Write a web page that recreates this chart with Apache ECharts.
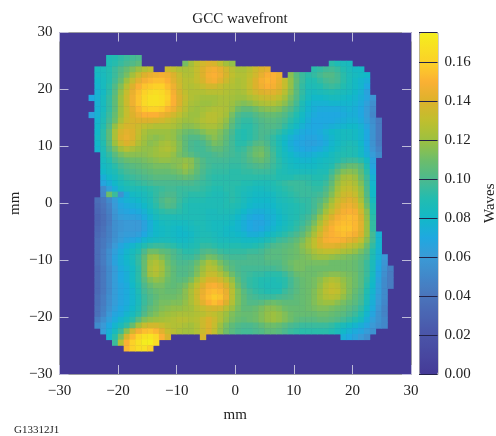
<!DOCTYPE html>
<html><head><meta charset="utf-8">
<style>html,body{margin:0;padding:0;background:#fff}#c{width:496px;height:436px}</style>
<script src="https://cdn.jsdelivr.net/npm/echarts@6/dist/echarts.min.js"></script>
</head><body><div id="c"></div>
<script>
// Wavefront in milliwaves, one row per 1 mm bin. 0 = outside the aperture.
const rowTops = [26,25,24,23,22,21,20,19,18,17,16,15,14,13,12,11,10,9,8,7,6,5,4,3,2,1,0,-1,-2,-3,-4,-5,-6,-7,-8,-9,-10,-11,-12,-13,-14,-15,-16,-17,-18,-19,-20,-21,-22,-23,-24,-25];
const rowStarts = [-22,-22,-24,-24,-24,-24,-24,-25,-24,-24,-25,-24,-24,-24,-24,-24,-24,-23,-23,-23,-23,-23,-23,-23,-23,-24,-24,-24,-24,-24,-24,-24,-24,-24,-24,-24,-24,-24,-24,-24,-24,-24,-24,-24,-24,-24,-24,-24,-23,-22,-21,-19];
const waveRows = [
[88,90,93,96,98,100],
[88,91,95,99,102,106,0,0,0,0,0,0,0,112,122,130,136,140,138,130,122,118,0,0,0,0,0,0,0,0,0,0,0,0,0,0,0,0,92,88,86,84],
[84,86,90,96,102,108,114,120,126,130,0,0,134,130,126,124,126,132,140,146,148,144,136,128,124,124,128,134,140,143,0,0,0,0,0,0,0,92,94,97,98,95,90,86,82,82],
[82,85,90,96,104,112,122,132,140,144,146,148,146,140,132,126,126,132,140,148,150,146,138,130,126,126,130,136,144,150,150,146,0,116,104,96,92,94,98,102,102,98,92,87,84,82,80],
[80,84,90,98,108,120,132,142,148,152,154,154,150,142,134,128,128,132,138,146,148,142,134,128,124,126,132,140,148,152,150,144,132,118,106,96,90,90,94,98,100,98,92,87,82,78,74],
[78,84,92,102,114,128,140,150,156,158,160,160,154,146,136,128,126,128,132,136,136,132,128,126,124,126,132,140,146,150,148,142,132,118,104,94,88,88,90,94,96,94,90,86,82,78,70],
[76,82,92,104,118,132,144,154,160,164,166,164,158,148,138,130,126,126,126,128,128,128,126,124,122,124,130,136,140,142,142,138,128,116,104,94,86,84,86,88,90,88,86,84,80,76,66],
[70,76,84,94,106,120,134,146,156,163,168,169,166,160,150,140,132,126,124,122,122,122,124,124,122,120,120,124,128,132,134,134,130,122,112,102,92,84,80,80,82,84,84,82,80,78,74,68,58],
[76,84,94,106,120,134,146,156,164,168,168,166,158,150,140,130,124,122,120,120,122,124,124,120,116,114,116,120,124,126,126,122,116,108,98,88,80,76,76,76,78,78,78,78,76,72,64,54],
[76,84,94,106,120,132,142,152,158,160,160,158,152,146,136,128,122,120,122,124,126,126,124,118,110,106,106,110,114,116,116,114,108,102,94,86,78,74,72,72,72,72,74,76,74,70,62,52],
[66,76,86,96,108,120,132,140,146,150,150,150,146,142,136,130,124,120,120,124,128,128,126,122,112,102,98,98,102,106,108,108,106,102,96,90,82,76,72,70,70,70,70,72,74,74,70,62,50],
[78,88,98,110,124,134,138,140,140,140,138,136,132,128,124,120,120,122,126,128,128,124,118,108,98,94,94,98,102,104,104,102,98,92,86,80,74,70,70,70,70,72,74,76,76,72,64,54,44],
[80,90,102,118,132,138,138,134,130,128,126,126,126,124,120,116,116,118,122,124,124,120,114,104,96,92,92,96,100,102,102,100,94,88,82,76,72,70,70,72,74,76,78,80,80,76,68,56,44],
[80,92,106,124,138,142,140,132,124,120,120,120,120,118,114,110,108,110,114,118,118,114,108,100,92,90,92,96,100,100,98,94,88,82,76,72,70,70,72,76,80,82,84,84,82,78,70,56,44],
[82,92,106,124,140,144,140,130,122,118,116,118,120,118,112,106,102,102,106,112,116,112,106,98,92,90,92,96,100,98,94,88,82,76,72,70,68,68,70,74,78,82,84,84,82,78,70,56,44],
[80,90,104,120,134,140,136,126,120,116,118,122,124,120,114,106,100,98,100,106,112,110,104,98,92,92,96,102,104,100,94,88,80,74,70,68,66,66,68,72,78,82,86,88,86,80,70,56,44],
[78,88,100,112,122,128,124,120,118,118,120,124,126,122,114,106,100,98,98,102,106,106,102,98,94,96,102,108,110,104,96,90,82,76,72,70,68,70,72,76,80,84,88,90,88,82,72,58,48],
[86,94,104,112,116,116,116,116,118,120,122,122,118,112,108,104,100,98,98,100,102,100,98,96,98,104,110,112,106,98,90,84,80,76,74,74,76,78,80,84,88,90,90,88,82,74,62,52],
[84,90,98,104,108,110,110,112,114,116,118,118,116,116,118,116,108,102,98,98,98,98,96,96,98,102,106,108,104,98,92,86,82,80,78,78,80,82,84,86,90,94,96,96,92,82,66],
[82,86,92,98,102,104,106,108,110,112,112,112,114,116,120,116,108,102,98,96,96,96,94,94,96,98,100,102,100,96,92,88,84,82,82,82,82,84,86,90,98,104,108,108,102,88,68],
[80,84,88,94,98,100,102,104,106,108,108,108,110,112,116,112,106,100,96,94,94,94,92,92,94,94,96,96,96,94,90,88,86,86,86,86,86,88,88,96,106,114,116,114,106,92,72],
[74,80,84,90,94,96,98,100,102,104,104,104,104,106,108,106,102,98,94,92,92,92,92,92,92,92,92,92,92,92,90,90,90,92,92,92,90,90,92,102,114,122,124,120,110,96,76],
[68,74,80,86,90,92,94,96,98,100,100,100,100,100,100,100,98,96,94,92,92,92,92,92,90,90,88,88,88,90,92,94,96,96,96,94,92,92,96,106,118,126,128,124,114,98,78],
[52,64,74,82,86,88,88,90,92,94,96,98,98,96,96,96,96,94,92,90,90,92,92,90,88,86,84,84,86,88,90,92,94,96,96,96,94,94,100,110,122,130,132,128,118,100,80],
[50,110,96,56,74,82,84,86,90,94,98,100,100,96,94,92,92,92,90,88,88,90,92,90,86,84,82,82,82,84,88,90,92,94,96,96,96,98,104,114,126,134,136,132,120,102,80],
[36,42,52,62,72,76,78,80,84,88,94,100,104,102,96,92,90,90,90,88,88,88,90,92,90,86,82,80,80,80,82,86,88,90,92,94,94,98,102,110,120,132,138,142,138,124,106,84],
[34,40,48,60,68,72,74,76,80,86,92,98,102,100,94,90,88,88,88,88,88,88,90,90,88,84,80,78,78,78,80,84,86,88,90,92,94,98,106,116,126,136,144,146,142,130,110,88],
[32,38,46,58,66,68,70,72,76,82,88,92,94,94,92,90,88,88,88,86,86,88,88,88,84,80,76,74,74,76,78,82,86,88,90,92,94,100,110,122,132,142,148,150,148,136,116,90],
[30,36,44,56,62,64,64,66,72,78,84,88,88,88,88,88,88,88,88,86,86,86,86,84,80,76,72,70,70,74,76,80,84,88,90,94,98,106,118,130,140,148,152,154,152,140,118,92],
[30,36,44,54,58,60,60,60,66,74,80,84,86,84,84,84,86,88,88,86,84,84,84,82,78,74,70,68,68,72,76,80,84,88,92,96,102,112,124,136,146,152,154,154,152,142,120,94],
[32,38,46,54,58,60,60,60,66,74,80,82,84,82,80,82,84,86,88,86,84,84,82,80,78,74,70,68,70,74,78,82,86,90,94,100,108,118,130,142,150,154,156,156,152,142,120,94],
[34,40,46,54,60,62,62,64,70,76,80,82,84,82,80,80,82,86,88,88,86,84,82,82,80,78,74,74,76,80,84,88,92,96,100,106,114,124,136,146,150,152,154,152,148,140,120,98,76],
[36,42,48,56,62,66,68,72,78,82,84,86,86,84,82,82,84,88,90,90,88,86,86,84,84,82,82,82,84,88,92,96,98,102,106,112,120,130,140,148,150,150,148,144,140,132,116,98,78],
[36,42,50,60,68,74,78,84,90,94,96,96,94,92,88,86,88,90,94,94,92,90,90,90,90,88,88,90,92,96,100,102,104,106,110,116,122,130,138,142,142,140,136,132,128,122,110,94,78],
[36,44,54,64,72,78,84,90,100,110,110,106,104,100,96,92,92,94,100,102,100,96,94,94,94,94,96,96,98,102,104,104,106,108,110,114,118,124,128,130,130,128,124,122,118,112,104,90,76],
[36,44,54,66,74,80,86,94,106,118,120,114,108,102,98,96,96,100,106,112,110,104,100,98,98,98,100,100,100,104,104,104,106,108,110,112,114,118,120,120,118,116,114,112,110,106,100,88,76,60],
[36,44,54,66,74,78,84,94,108,122,126,120,110,104,100,100,102,108,116,124,120,112,106,102,100,100,100,100,100,102,102,102,106,110,112,112,112,112,112,112,110,110,110,110,108,104,96,86,72,58],
[34,42,52,62,72,76,82,92,108,124,128,122,112,106,102,102,104,112,120,128,126,118,110,104,100,98,98,98,98,98,98,100,104,108,112,112,110,110,110,110,110,110,110,110,108,104,96,86,70,56,46],
[34,42,52,62,70,74,82,92,108,122,126,120,112,106,102,102,106,114,124,132,132,126,118,110,102,98,96,94,94,92,92,92,96,102,108,110,110,110,112,114,116,116,114,112,110,104,96,84,68,54,44],
[34,42,52,62,70,74,82,92,104,114,118,116,110,106,104,106,112,122,132,140,140,136,128,118,106,98,94,92,90,90,88,90,92,98,104,108,110,112,116,122,126,124,118,114,110,104,94,82,66,52,44],
[34,42,52,62,68,72,80,90,100,108,112,112,108,106,108,112,120,130,140,148,150,146,138,124,110,100,94,92,90,88,88,88,92,98,104,108,110,112,118,126,130,128,120,114,110,104,92,80,64,52,44],
[34,42,52,62,68,72,78,88,98,104,108,110,108,108,110,116,124,134,144,152,154,152,144,128,114,104,98,94,92,90,90,90,96,100,104,108,110,114,120,128,132,130,122,114,108,102,90,78,64,52],
[36,44,54,62,68,72,78,86,96,102,106,110,110,110,112,116,124,134,146,154,158,156,146,128,114,106,100,98,96,96,96,98,100,102,106,108,110,114,120,126,128,126,118,112,106,100,88,76,62,52],
[36,44,54,62,68,72,78,86,96,102,108,112,112,114,114,118,124,132,142,150,154,150,140,126,114,106,102,102,104,108,110,108,106,106,106,108,110,114,118,120,120,116,112,108,104,98,86,74,60,50],
[38,46,56,64,70,74,80,88,98,106,110,114,116,118,118,120,122,128,132,136,138,136,128,120,112,106,106,108,112,116,116,114,110,108,108,108,110,112,114,114,112,110,108,104,100,94,82,72,58,48],
[38,48,60,68,72,78,84,92,102,110,114,118,120,122,124,124,124,126,128,132,130,126,120,114,110,108,108,110,114,118,120,118,114,110,108,108,108,108,110,110,108,106,104,100,96,90,78,68,56,48],
[44,54,64,72,78,84,92,104,114,118,120,122,124,126,128,128,126,128,134,140,134,126,118,112,108,106,108,110,114,118,120,118,114,110,106,104,104,104,106,106,104,102,98,94,90,84,74,64,56,50],
[52,60,70,78,86,94,108,122,132,136,136,132,128,126,126,124,122,126,134,140,132,120,112,106,102,100,100,102,106,110,110,108,104,100,98,96,96,96,96,96,94,90,86,82,78,74,68,60,54,50],
[62,74,84,96,116,136,148,154,156,152,142,132,128,124,122,122,126,134,140,130,118,110,104,100,98,98,100,102,106,106,104,100,96,94,92,92,92,92,92,90,86,80,76,72,68,62,56],
[78,92,112,138,152,162,168,170,164,150,138,0,0,0,0,0,138,0,0,0,0,0,0,0,0,0,0,0,0,0,0,0,0,0,0,0,0,0,0,0,74,70,66,60,54],
[96,126,150,160,168,174,175,166],
[152,160,166,168,160]
];
const colorStops = ['#453a97','#4a54a8','#4a74bb','#3a9ad6','#1fa8e0','#12b8c8','#22bcb0','#4cb98e','#6dbd6a','#9cc040','#bfbf2e','#dcb22c','#fbb034','#fcd128','#f4ee1e'];
const stopValues = [0,.02,.04,.06,.07,.08,.09,.10,.11,.12,.13,.14,.15,.16,.175];
const barTicks = [0,.02,.04,.06,.08,.10,.12,.14,.16];

const serif = '"Liberation Serif","Times New Roman",serif';
const ink = '#222';
const bins = Array.from({length:60},(_,i)=>String(i-30));
const cells = [];
waveRows.forEach((row,r)=>row.forEach((v,c)=>{
  if(v>0) cells.push([rowStarts[r]+c+30, rowTops[r]-1+30, v/1000]);
}));
const minus = v=>String(v).replace('-','\u2212');
const frame = {gridIndex:0,type:'value',min:-30,max:30,interval:10,z:5,
  splitLine:{show:false},
  axisLine:{show:true,onZero:false,lineStyle:{color:'#9a9aa2',width:1}},
  axisTick:{show:true,inside:true,length:9,lineStyle:{color:'#bdbad8',width:1}}};
const labelStyle = {show:true,color:ink,fontFamily:serif,fontSize:15,formatter:minus};
const nameStyle = {color:ink,fontFamily:serif,fontSize:15};
// The stops are uneven, so resample them into an even colour list for the visualMap
function lerp(a,b,t){return Math.round(a+(b-a)*t);}
function hex(c){return [1,3,5].map(i=>parseInt(c.substr(i,2),16));}
const evenColors=[];
for(let i=0;i<=35;i++){
  const v=i*0.005; let k=0;
  while(k<stopValues.length-2&&v>stopValues[k+1])k++;
  const t=(v-stopValues[k])/(stopValues[k+1]-stopValues[k]);
  const A=hex(colorStops[k]),B=hex(colorStops[k+1]);
  evenColors.push('rgb('+lerp(A[0],B[0],t)+','+lerp(A[1],B[1],t)+','+lerp(A[2],B[2],t)+')');
}
const chart = echarts.init(document.getElementById('c'),null,{renderer:'canvas'});
chart.setOption({
  animation:false,
  backgroundColor:'#fff',
  title:{text:'GCC wavefront',left:235,top:7,textAlign:'center',
    textStyle:{color:ink,fontFamily:serif,fontSize:15,fontWeight:'normal'}},
  grid:[
    {left:59.5,top:32.5,width:351.5,height:341.5,show:true,backgroundColor:'#453a97',borderWidth:0,outerBoundsMode:'none',containLabel:false},
    {left:419,top:32.5,width:18.5,height:341.5,show:false,outerBoundsMode:'none',containLabel:false}
  ],
  xAxis:[
    {gridIndex:0,type:'category',data:bins,show:false},
    Object.assign({},frame,{position:'bottom',name:'mm',nameLocation:'middle',nameGap:34,nameMoveOverlap:false,nameTextStyle:nameStyle,
      axisLabel:Object.assign({margin:10},labelStyle)}),
    Object.assign({},frame,{position:'top',axisLabel:{show:false}}),
    {gridIndex:1,type:'value',show:false,min:0,max:1}
  ],
  yAxis:[
    {gridIndex:0,type:'category',data:bins,show:false},
    Object.assign({},frame,{position:'left',name:'mm',nameLocation:'middle',nameGap:36.5,nameMoveOverlap:false,nameTextStyle:nameStyle,
      axisLabel:Object.assign({margin:7},labelStyle)}),
    Object.assign({},frame,{position:'right',axisLabel:{show:false}}),
    {gridIndex:1,type:'value',position:'right',min:0,max:0.175,interval:0.02,z:10,
      name:'Waves',nameLocation:'middle',nameRotate:90,nameGap:45.5,nameMoveOverlap:false,nameTextStyle:nameStyle,
      axisLine:{show:false},axisTick:{show:false},
      splitLine:{show:true,lineStyle:{color:'#23234a',width:1}},
      axisLabel:{show:true,color:ink,fontFamily:serif,fontSize:15,margin:7,showMaxLabel:false,
        formatter:v=>barTicks.some(t=>Math.abs(t-v)<1e-6)?v.toFixed(2):''}}
  ],
  visualMap:{type:'continuous',seriesIndex:0,min:0,max:0.175,calculable:false,hoverLink:false,
    left:419,top:32.5,itemWidth:18.5,itemHeight:341.5,padding:0,text:['',''],showLabel:false,
    borderColor:'#a0a0a0',borderWidth:1,
    inRange:{color:evenColors}},
  graphic:[{type:'text',left:14,top:425,style:{text:'G13312J1',fill:ink,font:'11px '+serif}}],
  series:[{type:'heatmap',xAxisIndex:0,yAxisIndex:0,data:cells,progressive:0,
    itemStyle:{borderWidth:0},emphasis:{disabled:true}}]
});
</script></body></html>
